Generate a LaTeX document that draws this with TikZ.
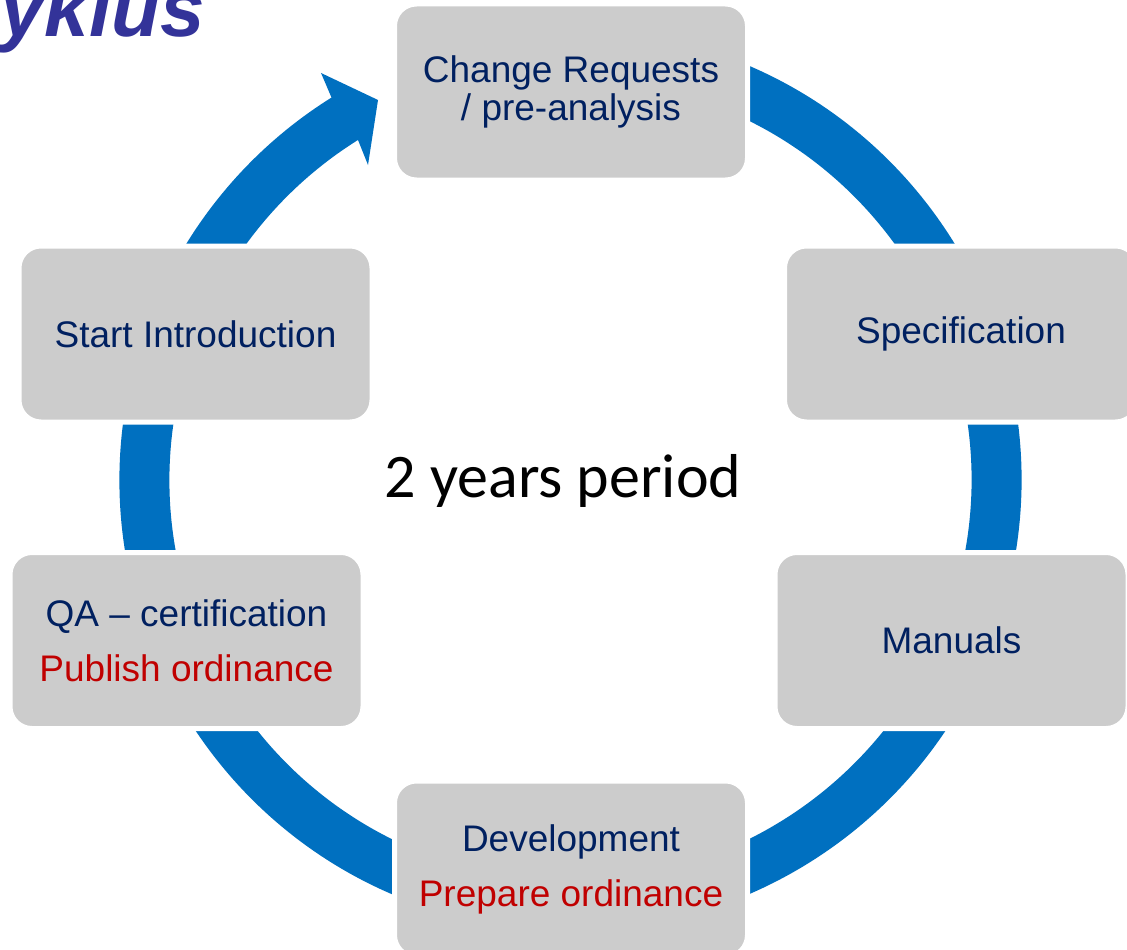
\documentclass[tikz,border=0pt]{standalone}
\usepackage{fontspec}
\setmainfont{Liberation Sans}
\newfontfamily\carlito{Carlito}
\definecolor{boxgray}{HTML}{CCCCCC}
\definecolor{navy}{HTML}{002060}
\definecolor{ordred}{HTML}{C00000}
\definecolor{ringblue}{HTML}{0070C0}
\definecolor{titleblue}{HTML}{333399}
\begin{document}
\begin{tikzpicture}[x=1pt,y=-1pt,
  stage/.style={fill=boxgray, draw=white, line width=5pt, rounded corners=22pt,
    minimum width=353pt, minimum height=176pt, inner sep=0pt, align=center,
    text=navy, font=\fontsize{37}{38}\selectfont},
  ring/.style={draw=ringblue, line width=50pt},
]
\useasboundingbox[fill=white] (0,0) rectangle (1127,950);
\coordinate (c) at (570.5,480);
% ring with arrow
\draw[ring] ([shift={(-75:426)}]c) arc[start angle=-75, end angle=238.5, radius=426];
\fill[ringblue] ([shift={(238:451)}]c) -- (321,73) -- (378,100) -- (368,165) -- ([shift={(238:401)}]c) -- cycle;
% stages
\node[stage] (cr) at (571,92) {Change Requests\\/ pre-analysis};
\node[stage] (spec) at (961,334) {Specification};
\node[stage] (start) at (195.5,334) {Start Introduction};
\node[stage] (man) at (951.5,640.5) {Manuals};
\node[stage] (qa) at (186.5,640.5) {QA – certification\\[17pt]\textcolor{ordred}{Publish ordinance}};
\node[stage] (dev) at (571,869) {Development\\[17pt]\textcolor{ordred}{Prepare ordinance}};
% texts
\node[anchor=base, font=\carlito\fontsize{62}{62}\selectfont, inner sep=0pt] (period) at (563,497) {2 years period};
\node[anchor=base east, text=titleblue, font=\fontsize{80}{80}\selectfont\bfseries\itshape, inner sep=0pt] (title) at (205,37) {yklus};
\end{tikzpicture}
\end{document}
